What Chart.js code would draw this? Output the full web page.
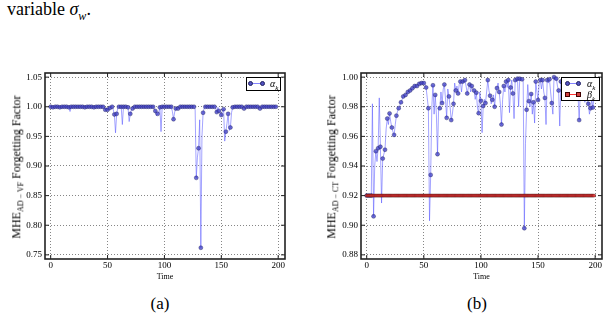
<!DOCTYPE html>
<html>
<head>
<meta charset="utf-8">
<script src="https://cdn.jsdelivr.net/npm/chart.js@4.4.0/dist/chart.umd.min.js"></script>
<style>
  body { margin: 0; width: 608px; height: 321px; background: #fff; position: relative; overflow: hidden;
         font-family: "Liberation Serif", "DejaVu Serif", "Times New Roman", serif; color: #000; }
  canvas { position: absolute; }
  .intro { position: absolute; left: 7px; top: -1px; font-size: 18px; line-height: 20px; white-space: nowrap; }
  .intro sub { font-size: 12px; }
  .ytitle { position: absolute; white-space: nowrap; font-size: 12px; line-height: 12px; font-weight: normal;
            transform: translate(-50%, -50%) rotate(-90deg); }
  .ytitle sub { font-size: 8px; }
  .caption { position: absolute; font-size: 17px; width: 40px; margin-left: -20px; text-align: center; }
  .legend { position: absolute; border: 1px solid #000; background: #fff; box-sizing: border-box; z-index: 2; }
  .lline { position: absolute; height: 1px; }
  .lmark { position: absolute; width: 5px; height: 5px; box-sizing: border-box; }
  .ltext { position: absolute; font-size: 10px; font-style: italic; line-height: 10px; }
  .ltext sub { font-size: 7px; }
</style>
</head>
<body>
<div class="intro">variable <i>σ</i><sub><i>w</i></sub>.</div>

<canvas id="chartA" width="300" height="232" style="left:0px; top:60px;"></canvas>
<canvas id="chartB" width="308" height="232" style="left:300px; top:60px;"></canvas>

<div class="ytitle" style="left:19px; top:167px;">MHE<sub>AD − VF</sub> Forgetting Factor</div>
<div class="ytitle" style="left:334px; top:167px;">MHE<sub>AD − CT</sub> Forgetting Factor</div>

<div class="legend" style="left:246px; top:77px; width:35px; height:14px;">
  <div class="lline" style="left:3px; top:5px; width:12px; background:rgba(80,80,255,0.7);"></div>
  <div class="lmark" style="left:1px; top:3px; border-radius:50%; background:#5050c0; border:0.5px solid #202060;"></div>
  <div class="lmark" style="left:13px; top:3px; border-radius:50%; background:#5050c0; border:0.5px solid #202060;"></div>
  <div class="ltext" style="left:23px; top:1px;">α<sub>k</sub></div>
</div>

<div class="legend" style="left:561px; top:77px; width:39px; height:24px;">
  <div class="lline" style="left:5px; top:5px; width:11px; background:rgba(80,80,255,0.7);"></div>
  <div class="lmark" style="left:3px; top:3px; border-radius:50%; background:#5050c0; border:0.5px solid #202060;"></div>
  <div class="lmark" style="left:14px; top:3px; border-radius:50%; background:#5050c0; border:0.5px solid #202060;"></div>
  <div class="ltext" style="left:25px; top:1px;">α<sub>k</sub></div>
  <div class="lline" style="left:5px; top:16px; width:11px; background:rgba(255,0,0,0.8);"></div>
  <div class="lmark" style="left:3px; top:14px; background:#d04040; border:0.5px solid #400000;"></div>
  <div class="lmark" style="left:14px; top:14px; background:#d04040; border:0.5px solid #400000;"></div>
  <div class="ltext" style="left:25px; top:12px;">β<sub>k</sub></div>
</div>

<div class="caption" style="left:160px; top:294px;">(a)</div>
<div class="caption" style="left:477px; top:294px;">(b)</div>

<script>
const times = Array.from({ length: 200 }, (_, i) => i);

// (a) MHE AD-VF forgetting factor
const alphaA = [
  1.000,1.000,0.999,1.000,1.000,1.000,1.000,1.000,0.999,1.000,1.000,1.000,1.000,1.000,1.000,1.000,0.999,0.992,1.000,1.000,
  1.000,1.000,1.000,1.000,1.000,0.999,1.000,1.000,1.000,1.000,0.999,1.000,1.000,1.000,1.000,1.000,1.000,1.000,0.999,1.000,
  1.000,1.000,1.000,1.000,1.000,1.000,1.000,1.000,0.995,0.998,0.995,0.999,0.998,1.000,1.000,0.995,0.987,0.956,0.988,0.998,
  1.000,0.999,1.000,0.970,1.000,1.000,1.000,0.999,0.999,0.975,0.988,0.995,0.997,1.000,1.000,1.000,1.000,1.000,1.000,1.000,
  1.000,1.000,1.000,1.000,1.000,1.000,1.000,1.000,1.000,1.000,1.000,0.996,0.993,0.985,0.988,0.990,0.999,0.958,1.000,1.000,
  1.000,1.000,1.000,1.000,1.000,1.000,1.000,0.992,0.979,0.991,0.997,0.999,0.997,1.000,1.000,1.000,1.000,1.000,1.000,1.000,
  1.000,1.000,1.000,1.000,1.000,1.000,1.000,0.995,0.880,0.915,0.930,0.978,0.762,0.950,0.990,0.998,1.000,1.000,1.000,1.000,
  1.000,1.000,1.000,1.000,1.000,0.998,0.991,0.999,0.993,0.990,0.986,0.992,0.996,0.942,0.958,0.972,0.988,0.960,0.965,0.990,
  0.999,1.000,1.000,1.000,1.000,1.000,1.000,1.000,1.000,1.000,0.997,0.998,1.000,1.000,1.000,1.000,1.000,1.000,1.000,1.000,
  1.000,1.000,1.000,1.000,0.997,0.998,1.000,1.000,1.000,1.000,1.000,1.000,1.000,1.000,1.000,1.000,1.000,1.000,1.000,1.000
];

// (b) MHE AD-CT forgetting factors
const alphaB = [
  0.920,0.920,0.920,0.921,0.920,0.982,0.906,0.940,0.950,0.943,0.952,0.986,0.953,0.915,0.945,0.948,0.951,0.965,0.972,0.968,
  0.9755,0.970,0.966,0.963,0.961,0.968,0.974,0.977,0.979,0.981,0.983,0.985,0.987,0.988,0.988,0.989,0.990,0.991,0.991,0.992,
  0.9925,0.993,0.994,0.994,0.994,0.995,0.9955,0.996,0.996,0.996,0.996,0.995,0.993,0.986,0.979,0.903,0.934,0.980,0.9945,0.975,
  0.988,0.975,0.948,0.980,0.979,0.990,0.9825,0.992,0.995,0.985,0.9725,0.992,0.987,0.980,0.971,0.975,0.982,0.996,0.991,0.994,
  0.989,0.995,0.997,0.990,0.997,0.996,0.998,0.994,0.989,0.993,0.995,0.990,0.994,0.992,0.991,0.985,0.9895,0.979,0.9757,0.990,
  0.984,0.9625,0.9805,0.985,0.9825,0.990,0.998,0.991,0.9875,0.982,0.9847,0.988,0.980,0.989,0.9926,0.996,0.990,0.982,0.968,0.985,
  0.994,0.990,0.997,0.993,0.998,0.976,0.993,0.998,0.989,0.972,0.998,0.997,0.999,0.980,0.999,0.998,0.9985,0.997,0.898,0.955,
  0.978,0.995,0.9838,0.980,0.9886,0.975,0.983,0.969,0.997,0.990,0.9845,0.996,0.998,0.992,0.998,0.990,0.986,0.968,0.998,0.996,
  0.9985,0.990,0.9825,0.975,1.000,0.998,0.999,0.994,0.991,0.967,0.997,0.995,0.996,0.992,0.994,0.987,0.993,0.996,0.990,0.994,
  0.992,0.985,0.995,0.990,0.993,0.988,0.971,0.991,0.994,0.987,0.992,0.983,0.990,0.986,0.982,0.975,0.979,0.985,0.9795,0.986
];
const betaB = [
  0.92,0.92,0.92,0.92,0.92,0.92,0.92,0.92,0.92,0.92,0.92,0.92,0.92,0.92,0.92,0.92,0.92,0.92,0.92,0.92,
  0.92,0.92,0.92,0.92,0.92,0.92,0.92,0.92,0.92,0.92,0.92,0.92,0.92,0.92,0.92,0.92,0.92,0.92,0.92,0.92,
  0.92,0.92,0.92,0.92,0.92,0.92,0.92,0.92,0.92,0.92,0.92,0.92,0.92,0.92,0.92,0.92,0.92,0.92,0.92,0.92,
  0.92,0.92,0.92,0.92,0.92,0.92,0.92,0.92,0.92,0.92,0.92,0.92,0.92,0.92,0.92,0.92,0.92,0.92,0.92,0.92,
  0.92,0.92,0.92,0.92,0.92,0.92,0.92,0.92,0.92,0.92,0.92,0.92,0.92,0.92,0.92,0.92,0.92,0.92,0.92,0.92,
  0.92,0.92,0.92,0.92,0.92,0.92,0.92,0.92,0.92,0.92,0.92,0.92,0.92,0.92,0.92,0.92,0.92,0.92,0.92,0.92,
  0.92,0.92,0.92,0.92,0.92,0.92,0.92,0.92,0.92,0.92,0.92,0.92,0.92,0.92,0.92,0.92,0.92,0.92,0.92,0.92,
  0.92,0.92,0.92,0.92,0.92,0.92,0.92,0.92,0.92,0.92,0.92,0.92,0.92,0.92,0.92,0.92,0.92,0.92,0.92,0.92,
  0.92,0.92,0.92,0.92,0.92,0.92,0.92,0.92,0.92,0.92,0.92,0.92,0.92,0.92,0.92,0.92,0.92,0.92,0.92,0.92,
  0.92,0.92,0.92,0.92,0.92,0.92,0.92,0.92,0.92,0.92,0.92,0.92,0.92,0.92,0.92,0.92,0.92,0.92,0.92,0.92
];

const xTicks = [0, 50, 100, 150, 200];
const yTicksA = [0.75, 0.80, 0.85, 0.90, 0.95, 1.00, 1.05];
const yTicksB = [0.88, 0.90, 0.92, 0.94, 0.96, 0.98, 1.00];

const toPoints = vals => vals.map((v, i) => ({ x: times[i], y: v }));

Chart.defaults.font.family = "'Liberation Serif', 'DejaVu Serif', serif";
Chart.defaults.font.size = 9;
Chart.defaults.color = '#000';

// black box round the plot with small inward ticks, matplotlib style
const framePlugin = {
  id: 'frame',
  afterDraw(chart) {
    const { ctx, chartArea: a, scales } = chart;
    ctx.save();
    ctx.strokeStyle = '#222';
    ctx.lineWidth = 1;
    ctx.beginPath();
    scales.x.ticks.forEach(t => {
      const px = scales.x.getPixelForValue(t.value);
      ctx.moveTo(px, a.bottom); ctx.lineTo(px, a.bottom - 4);
      ctx.moveTo(px, a.top); ctx.lineTo(px, a.top + 4);
    });
    scales.y.ticks.forEach(t => {
      const py = scales.y.getPixelForValue(t.value);
      ctx.moveTo(a.left, py); ctx.lineTo(a.left + 4, py);
      ctx.moveTo(a.right, py); ctx.lineTo(a.right - 4, py);
    });
    ctx.stroke();
    ctx.lineWidth = 1.6;
    ctx.strokeRect(a.left, a.top, a.right - a.left, a.bottom - a.top);
    ctx.restore();
  }
};

const alphaStyle = {
  borderColor: 'rgba(90, 90, 255, 0.55)',
  borderWidth: 1,
  pointBackgroundColor: 'rgba(70, 70, 200, 0.8)',
  pointBorderColor: 'rgba(20, 20, 80, 0.7)',
  pointBorderWidth: 0.5,
  pointRadius: ctx => (ctx.dataIndex % 2 === 0 ? 2 : 0),
  tension: 0
};

function makeChart(id, datasets, yMin, yMax, yTicks, yWidth, padRight) {
  return new Chart(document.getElementById(id), {
    type: 'line',
    data: { datasets },
    options: {
      responsive: false,
      animation: false,
      layout: { padding: { top: 13, right: padRight, left: 0, bottom: 0 } },
      plugins: { legend: { display: false }, tooltip: { enabled: false } },
      scales: {
        x: {
          type: 'linear', min: -5, max: 206,
          afterBuildTicks: s => { s.ticks = xTicks.map(v => ({ value: v })); },
          afterFit: s => { s.height = 33; },
          ticks: { padding: 1, callback: v => String(v), maxRotation: 0 },
          grid: { color: 'rgba(0,0,0,0.6)', lineWidth: 0.8, drawTicks: false },
          border: { display: false, dash: [1, 2] },
          title: { display: true, text: 'Time', font: { size: 8 }, padding: { top: 0, bottom: 10 } }
        },
        y: {
          type: 'linear', min: yMin, max: yMax,
          afterBuildTicks: s => { s.ticks = yTicks.map(v => ({ value: v })); },
          afterFit: s => { s.width = yWidth; },
          ticks: { padding: 3, callback: v => v.toFixed(2) },
          grid: { color: 'rgba(0,0,0,0.6)', lineWidth: 0.8, drawTicks: false },
          border: { display: false, dash: [1, 2] }
        }
      }
    },
    plugins: [framePlugin]
  });
}

makeChart('chartA', [
  Object.assign({ label: 'alpha_k', data: toPoints(alphaA) }, alphaStyle)
], 0.743, 1.057, yTicksA, 45, 15);

makeChart('chartB', [
  {
    label: 'beta_k',
    data: toPoints(betaB),
    order: 0,
    borderColor: 'rgba(255, 0, 0, 0.8)',
    borderWidth: 1,
    pointStyle: 'rect',
    pointRadius: 1.9,
    pointBackgroundColor: 'rgba(235, 60, 60, 0.85)',
    pointBorderColor: 'rgba(70, 0, 0, 0.7)',
    pointBorderWidth: 0.5
  },
  Object.assign({ label: 'alpha_k', data: toPoints(alphaB), order: 1 }, alphaStyle)
], 0.8772, 1.0028, yTicksB, 61, 6);
</script>
</body>
</html>
